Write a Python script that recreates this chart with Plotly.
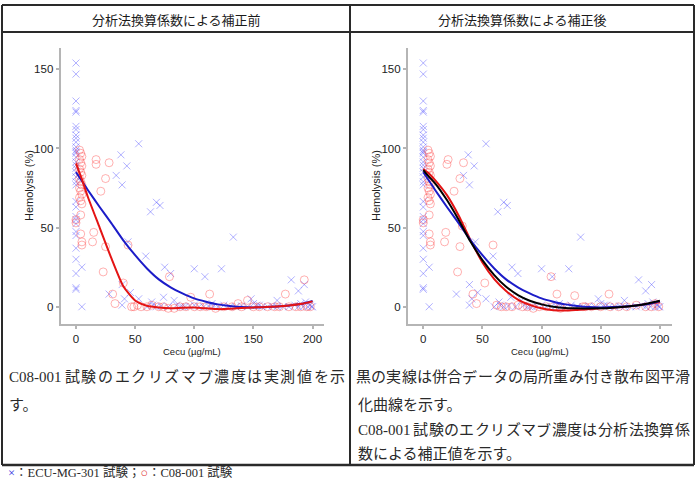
import plotly.graph_objects as go

W, H = 696, 479

# ---------------- text ----------------
header_left = "分析法換算係数による補正前"
header_right = "分析法換算係数による補正後"
note_left = ["C08-001 試験のエクリズマブ濃度は実測値を示", "す。"]
note_right = ["黒の実線は併合データの局所重み付き散布図平滑",
              "化曲線を示す。",
              "C08-001 試験のエクリズマブ濃度は分析法換算係",
              "数による補正値を示す。"]
y_title = "Hemolysis (%)"
x_title = "Cecu (µg/mL)"
x_ticks = [0, 50, 100, 150, 200]
y_ticks = [0, 50, 100, 150]

# ---------------- ECU-MG-301 (blue x) ----------------
ecu_x = ([0] * 34 +
         [5, 5, 53, 38, 43, 34, 39, 68, 71, 63, 133, 44, 59, 75, 100, 123, 109, 80,
          182, 193, 188, 28, 39, 46, 41, 39, 53, 64, 74, 83, 148, 170,
          60, 65, 68, 72, 78, 85, 88, 92, 96, 100, 104, 108, 112, 116, 120, 125,
          130, 135, 140, 145, 150, 153, 157, 162, 166, 170, 175, 180, 185, 188,
          190, 192, 194, 196, 198, 199, 200, 155, 115, 90])
ecu_y = ([154, 147, 130, 124, 123, 114, 112, 108.5, 106.5, 104, 101, 99, 98, 97,
          94.5, 91.5, 89.5, 87.5, 85, 82, 79, 77, 66.5, 63, 57, 55, 52.5, 47.5,
          45, 37, 30, 21, 12, 11] +
         [25, 0, 103, 96, 89, 83, 77, 66, 64, 60, 44, 41, 32, 25, 24, 24, 19, 21,
          17, 14, 10, 8, 14, 9, 5, 1, 5, 3, 6, 4, 5, 4,
          0, 1, 0, 0.5, 0, 1, 0, 0, 0.5, 1, 0, 0, 0.5, 0, 0, 1,
          0, 0, 0.5, 0, 2, 1, 0, 0, 0.5, 0, 0, 0, 1, 0,
          2, 0, 3, 0, 1, 0, 0, 1, 2, 0])

# ---------------- C08-001 measured (red o, left) ----------------
c08_raw_x = ([3, 4, 5, 3, 4, 5, 3, 4, 5, 3, 4, 5, 3, 4, 5, 3, 4, 5, 4, 4, 5, 5, 0, 0] +
             [17, 17, 28, 25, 21, 15, 14, 25, 44, 23, 40, 31, 33, 79, 113, 97, 177,
              193, 145, 137, 52, 49, 55, 47, 60, 64, 70, 74, 78, 83, 88, 93, 100,
              105, 110, 118, 125, 132, 140, 150, 155, 162, 168, 172, 180, 186,
              190, 195, 198])
c08_raw_y = ([99, 97, 95, 93, 91, 89, 87, 85, 83, 81, 79, 77, 75, 73, 71, 69, 67, 65,
              58, 46, 41, 39, 53, 55] +
             [93, 90, 91, 81, 73, 47, 41, 38, 39, 22, 15, 8, 2, 19, 8, 6, 8,
              17, 4, 2, 1, 0, 0, 0, 0, 1, 0, 0, -1, -1, 0, 0, 0,
              0, 0, -1, 0, 0, 0, 0, 0, 0, 0, 0, 0, 0,
              0, 0, 0])

# ---------------- C08-001 corrected (red o, right) ----------------
c08_adj_x = ([4, 5, 6, 4, 5, 6, 4, 5, 6, 4, 5, 6, 4, 5, 6, 4, 5, 6, 5, 5, 6, 6, 0, 0] +
             [21, 20, 34, 31, 26, 19, 18, 31, 33, 59, 29, 52, 42, 45, 108, 113, 128,
              157, 137, 62, 66, 70, 75, 80, 84, 88, 93, 98, 104, 110, 116, 122,
              135, 142, 150, 158, 165, 172, 180, 188, 193, 196, 199])
c08_adj_y = ([99, 97, 95, 93, 91, 89, 87, 85, 83, 81, 79, 77, 75, 73, 71, 69, 67, 65,
              58, 46, 41, 39, 53, 55] +
             [93, 90, 91, 81, 73, 47, 41, 38, 51, 39, 22, 15, 8, 2, 19, 8, 7,
              8, 0, 1, 0, 0, 0, 1, 0, 0, -1, 0, 0, 0, -1, 0,
              0, 0, 0, 0, 0, 0, 1, 0, 0, 2, 0])

# ---------------- LOESS curves ----------------
curve_x = [0, 5, 10, 20, 30, 40, 50, 60, 70, 80, 90, 100, 110, 120, 130, 140, 150,
           160, 170, 180, 190, 200]
ecu_fit = [85, 79.5, 73.8, 63, 52.7, 42, 32.6, 24.2, 17.3, 12.3, 8.5, 5.3, 3.2, 1.5,
           0.5, -0.2, -0.4, -0.2, 0.2, 0.8, 1.7, 3.6]
c08_raw_fit = [90.6, 80.5, 69.5, 50, 30.5, 13, 4, 0.6, -0.5, -0.9, -0.6, -0.5, -1, -1.5,
               -1.3, -0.8, -0.4, -0.2, 0.2, 0.8, 1.7, 3.4]
c08_adj_fit = [87, 84, 80, 70.5, 57.5, 42, 28, 17.5, 10, 4.5, 1.2, -1, -2.2, -2.4, -2,
               -1.5, -1, -0.5, 0, 0.8, 1.8, 3]
pooled_fit = [86.4, 82, 78, 67.4, 54.8, 41, 29.5, 20, 12.6, 7.4, 3.8, 1.5, 0, -0.8,
              -1, -1.1, -1, -0.6, 0, 0.8, 2.1, 3.8]

BLUE_PT = "rgba(70,70,255,0.42)"
RED_PT = "rgba(255,70,70,0.42)"
BLUE_LN = "#1c1cc8"
RED_LN = "#e41414"


def px(x):
    return x / W


def py(y):
    return 1 - y / H


fig = go.Figure()


def add_panel(xa, ya, red_x, red_y, curves):
    fig.add_trace(go.Scatter(x=ecu_x, y=ecu_y, mode="markers", xaxis=xa, yaxis=ya,
                             marker=dict(symbol="x-thin-open", size=7, color=BLUE_PT,
                                         line=dict(width=1, color=BLUE_PT)),
                             showlegend=False, hoverinfo="skip"))
    fig.add_trace(go.Scatter(x=red_x, y=red_y, mode="markers", xaxis=xa, yaxis=ya,
                             marker=dict(symbol="circle-open", size=8, color=RED_PT,
                                         line=dict(width=1, color=RED_PT)),
                             showlegend=False, hoverinfo="skip"))
    for yv, col in curves:
        fig.add_trace(go.Scatter(x=curve_x, y=yv, mode="lines", xaxis=xa, yaxis=ya,
                                 line=dict(color=col, width=2, shape="spline",
                                           smoothing=0.6),
                                 showlegend=False, hoverinfo="skip"))


add_panel("x", "y", c08_raw_x, c08_raw_y, [(ecu_fit, BLUE_LN), (c08_raw_fit, RED_LN)])
add_panel("x2", "y2", c08_adj_x, c08_adj_y,
          [(c08_adj_fit, RED_LN), (ecu_fit, BLUE_LN), (pooled_fit, "#000000")])

tick_font = dict(family="Liberation Sans, Arial, sans-serif", size=11.5, color="#222222")
axis_common = dict(showline=True, linewidth=2, linecolor="#b5b5b5", ticks="outside",
                   ticklen=3, tickwidth=1.5, tickcolor="#b5b5b5", showgrid=False,
                   zeroline=False, tickfont=tick_font, fixedrange=True)

y_dom = [py(324), py(48)]
fig.update_layout(
    width=W, height=H, margin=dict(l=0, r=0, t=0, b=0),
    paper_bgcolor="white", plot_bgcolor="white",
    xaxis=dict(domain=[px(60.6), px(324.4)], range=[-13, 210], tickvals=x_ticks,
               anchor="y", **axis_common),
    yaxis=dict(domain=y_dom, range=[-10.9, 163.5], tickvals=y_ticks, anchor="x",
               **axis_common),
    xaxis2=dict(domain=[px(407.9), px(671.7)], range=[-13, 210], tickvals=x_ticks,
                anchor="y2", **axis_common),
    yaxis2=dict(domain=y_dom, range=[-10.9, 163.5], tickvals=y_ticks, anchor="x2",
                **axis_common),
)

# table lines
LC = "#2a2a2a"
lines = [
    (2, 5, 694, 5, 2), (2, 32, 694, 32, 2), (2, 465, 694, 465, 2.5),
    (2, 5, 2, 465, 2), (694, 5, 694, 465, 2), (350, 5, 350, 465, 2),
]
for x0, y0, x1, y1, w in lines:
    fig.add_shape(type="line", xref="paper", yref="paper", x0=px(x0), y0=py(y0),
                  x1=px(x1), y1=py(y1), line=dict(color=LC, width=w))

ann = []
hdr_font = dict(family="Noto Sans CJK JP, sans-serif", size=13, color="#1a1a1a")
ann.append(dict(text=header_left, x=px(176), y=py(19), font=hdr_font))
ann.append(dict(text=header_right, x=px(522), y=py(19), font=hdr_font))

title_font = dict(family="Liberation Sans, Arial, sans-serif", size=11, color="#222222")
for cx, tx in [(192, 29), (540, 376)]:
    ann.append(dict(text=x_title, x=px(cx), y=py(351.5), font=dict(title_font, size=9.5)))
    ann.append(dict(text=y_title, x=px(tx), y=py(186), textangle=-90, font=title_font))

body_font = dict(family="Liberation Serif, Noto Sans CJK JP, serif", size=15,
                 color="#2a2a2a")


def justified(text, x_left, x_cjk, x_right, yy):
    """Lay one full line of Japanese text out across the cell width."""
    if " " in text:
        prefix, rest = text.split(" ", 1)
        ann.append(dict(text=prefix, x=px(x_left), y=py(yy), xanchor="left",
                        font=body_font))
    else:
        rest = text
    pitch = (x_right - x_cjk) / len(rest)
    for i, ch in enumerate(rest):
        ann.append(dict(text=ch, x=px(x_cjk + pitch * (i + 0.5)), y=py(yy),
                        font=body_font))


def plain(text, x_left, yy):
    ann.append(dict(text=text, x=px(x_left), y=py(yy), xanchor="left", font=body_font))


justified(note_left[0], 7, 64, 346, 377)
plain(note_left[1], 7, 405)
justified(note_right[0], 356, 356, 690, 377)
plain(note_right[1], 356, 405)
justified(note_right[2], 356, 413, 690, 430)
plain(note_right[3], 356, 454)

foot = ("<span style='color:#3030e0'>×</span>：ECU-MG-301 試験；"
        "<span style='color:#e03030'>○</span>：C08-001 試験")
ann.append(dict(text=foot, x=px(6), y=py(472), xanchor="left",
                font=dict(body_font, size=12.5)))

for a in ann:
    a.setdefault("xanchor", "center")
    a.update(xref="paper", yref="paper", showarrow=False, yanchor="middle")
    fig.add_annotation(**a)

fig.write_html("out.html")
